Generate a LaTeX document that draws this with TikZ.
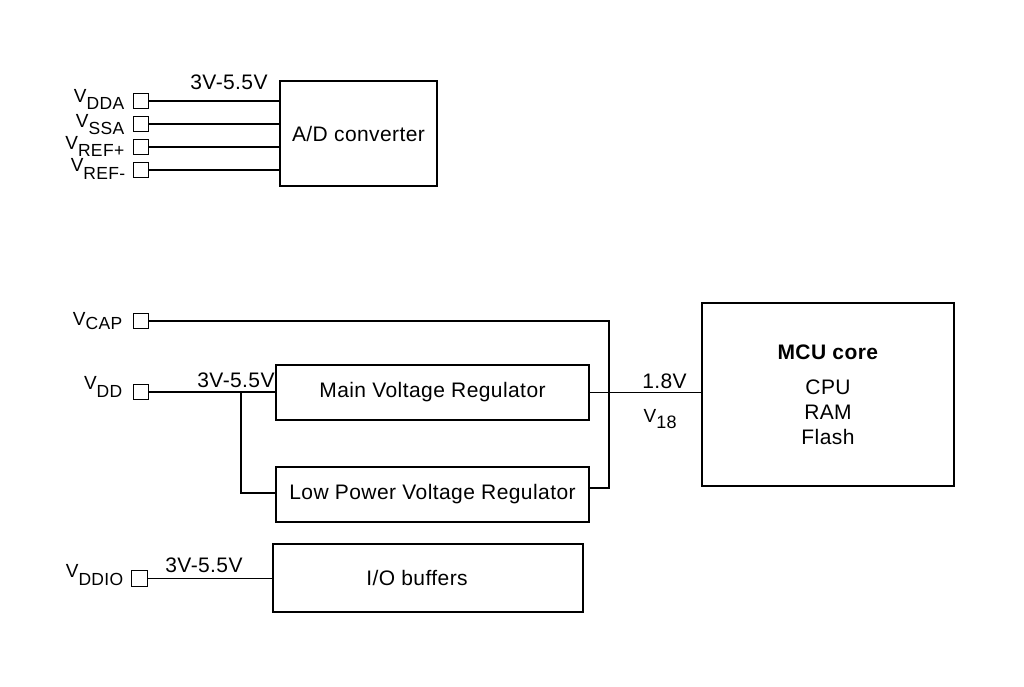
\documentclass[tikz,border=0pt]{standalone}
\usepackage{fontspec}
\setmainfont[LetterSpace=2]{Liberation Sans}
\newcommand\mainfs{\fontsize{21}{25}\selectfont}
\newcommand\pinfs{\fontsize{19}{22}\selectfont}
\newcommand\subfs{\fontsize{17.5}{20}\selectfont}
\newcommand\vsub[2]{V\raisebox{-#1pt}{\subfs #2}}
\begin{document}
\begin{tikzpicture}[x=1pt,y=-1pt,
  line width=1.4pt,
  pinbox/.style={draw, minimum size=15.5pt, inner sep=0pt, line width=1.3pt},
  blk/.style={draw, inner sep=0pt, font=\mainfs},
  lbl/.style={inner sep=0pt, font=\mainfs},
  pinlbl/.style={inner sep=0pt, anchor=base east, font=\pinfs}]
\useasboundingbox (0,0) rectangle (1024,686);

% blocks
\node[blk, minimum width=157pt, minimum height=105pt] (ad) at (358.5,133.5) {A/D converter};
\node[blk, minimum width=313pt, minimum height=55pt] (mvr) at (432.5,392.5) {Main Voltage Regulator};
\node[blk, minimum width=313pt, minimum height=55pt] (lp) at (432.5,494.5) {Low Power Voltage Regulator};
\node[blk, minimum width=252pt, minimum height=183pt, align=center] (mcu) at (828,394.5)
  {\textbf{MCU core}\\[10pt]CPU\\RAM\\Flash};
\node[blk, minimum width=310pt, minimum height=68pt] (io) at (428,578) {\hspace*{-22pt}I/O buffers};

% pins
\node[pinbox] (pdda) at (141,101) {};
\node[pinbox] (pssa) at (141,124) {};
\node[pinbox] (prefp) at (141,147) {};
\node[pinbox] (prefm) at (141,170) {};
\node[pinbox] (pcap) at (141,321) {};
\node[pinbox] (pdd) at (141,392) {};
\node[pinbox] (pio) at (139.5,578.5) {};

% pin labels
\node[pinlbl] (ldda) at (125,102) {\vsub{7.5}{DDA}};
\node[pinlbl] (lssa) at (125,127) {\vsub{7.5}{SSA}};
\node[pinlbl] (lrefp) at (125,149) {\vsub{7.5}{REF+}};
\node[pinlbl] (lrefm) at (126,171) {\vsub{8}{REF-}};
\node[pinlbl] (lcap) at (123,325) {\vsub{4}{CAP}};
\node[pinlbl] (ldd) at (123,389) {\vsub{8}{DD}};
\node[pinlbl] (lio) at (124,577) {\vsub{8}{DDIO}};

% voltage labels
\node[lbl, anchor=base] (vad) at (229,89.5) {3V-5.5V};
\node[lbl, anchor=base] (vdd) at (236,387.5) {3V-5.5V};
\node[lbl, anchor=base] (vio) at (204,572) {3V-5.5V};
\node[lbl, anchor=base] (v18v) at (664.5,388.5) {1.8V};
\node[inner sep=0pt, anchor=base west, font=\fontsize{19}{22}\selectfont] (v18) at (643,422) {V\raisebox{-6pt}{\fontsize{18}{20}\selectfont 18}};

% connectors
\draw (pdda.east) -- (pdda.east -| ad.west);
\draw (pssa.east) -- (pssa.east -| ad.west);
\draw (prefp.east) -- (prefp.east -| ad.west);
\draw (prefm.east) -- (prefm.east -| ad.west);

\coordinate (vx) at (609,488);
\draw (pcap.east) -| (vx) -- (vx -| lp.east);
\draw (pdd.east) -- (pdd.east -| mvr.west);
\coordinate (jn) at (241,392);
\coordinate (jl) at (241,493);
\draw (jn) -- (jl) -- (jl -| lp.west);
\draw (mvr.east) -- (mvr.east -| mcu.west);
\draw (pio.east) -- (pio.east -| io.west);
\end{tikzpicture}
\end{document}
